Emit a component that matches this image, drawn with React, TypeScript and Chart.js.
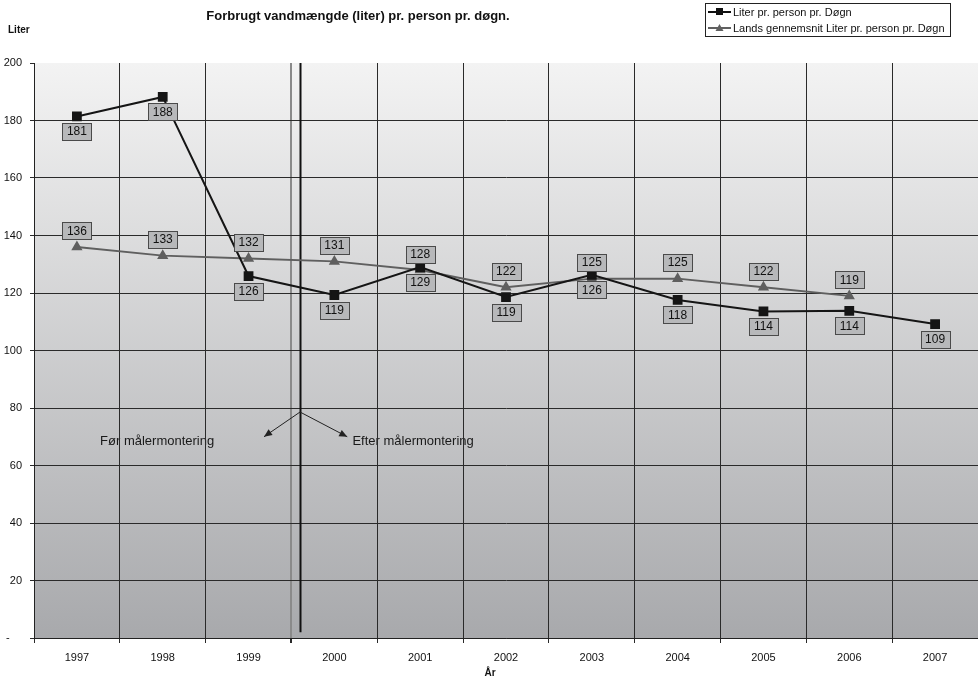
import { useEffect, useRef } from 'react';
import { Chart, registerables } from 'chart.js';

Chart.register(...registerables);

const years = ['1997', '1998', '1999', '2000', '2001', '2002', '2003', '2004', '2005', '2006', '2007'];
const literPerPerson = [181.4, 188.2, 125.9, 119.3, 129.0, 118.6, 126.3, 117.6, 113.6, 113.8, 109.2];
const landsGennemsnit = [136, 133, 132, 131, 128, 122, 125, 125, 122, 119, null];
const yTickValues = [0, 20, 40, 60, 80, 100, 120, 140, 160, 180, 200];

const seriesNames = ['Liter pr. person pr. Døgn', 'Lands gennemsnit Liter pr. person pr. Døgn'];
const chartTitle = 'Forbrugt vandmængde (liter) pr. person pr. døgn.';
const yTitle = 'Liter';
const xTitle = 'År';
const beforeText = 'Før målermontering';
const afterText = 'Efter målermontering';

const FONT = '"Liberation Sans", Arial, sans-serif';

// annotation anchors in data units (category index, value)
const dividerAt = 2.6;
const arrowFrom = { x: 2.6, y: 78.6 };
const arrowLeftTo = { x: 2.18, y: 70 };
const arrowRightTo = { x: 3.15, y: 70 };
const beforeTextAt = { x: 0.27, y: 68.5 };
const afterTextAt = { x: 3.21, y: 68.5 };

function arrow(ctx: CanvasRenderingContext2D, x1: number, y1: number, x2: number, y2: number) {
  ctx.beginPath();
  ctx.moveTo(x1, y1);
  ctx.lineTo(x2, y2);
  ctx.stroke();
  const ang = Math.atan2(y2 - y1, x2 - x1);
  const len = 8;
  const w = 3.5;
  ctx.beginPath();
  ctx.moveTo(x2, y2);
  ctx.lineTo(x2 - len * Math.cos(ang) + w * Math.sin(ang), y2 - len * Math.sin(ang) - w * Math.cos(ang));
  ctx.lineTo(x2 - len * Math.cos(ang) - w * Math.sin(ang), y2 - len * Math.sin(ang) + w * Math.cos(ang));
  ctx.closePath();
  ctx.fill();
}

const customPlugin = {
  id: 'customDecor',
  beforeDraw(chart: any) {
    const { ctx, chartArea, scales } = chart;
    const { left, top, right, bottom } = chartArea;
    ctx.save();
    const g = ctx.createLinearGradient(0, top, 0, bottom);
    g.addColorStop(0, '#f3f3f3');
    g.addColorStop(1, '#a8a9ac');
    ctx.fillStyle = g;
    ctx.fillRect(left, top, right - left, bottom - top);
    ctx.fillStyle = '#1a1a1a';
    ctx.font = `13px ${FONT}`;
    ctx.textBaseline = 'middle';
    ctx.textAlign = 'left';
    ctx.fillText(beforeText, scales.x.getPixelForValue(beforeTextAt.x), scales.y.getPixelForValue(beforeTextAt.y));
    ctx.fillText(afterText, scales.x.getPixelForValue(afterTextAt.x), scales.y.getPixelForValue(afterTextAt.y));
    ctx.restore();
  },
  beforeDatasetsDraw(chart: any) {
    const { ctx, scales } = chart;
    const x = scales.x;
    const y = scales.y;
    ctx.save();
    const dx = Math.round(x.getPixelForValue(dividerAt)) + 0.5;
    ctx.strokeStyle = '#111';
    ctx.lineWidth = 2;
    ctx.beginPath();
    ctx.moveTo(dx, y.getPixelForValue(200));
    ctx.lineTo(dx, y.getPixelForValue(2));
    ctx.stroke();
    ctx.lineWidth = 1;
    ctx.strokeStyle = '#222';
    ctx.fillStyle = '#222';
    const fx = x.getPixelForValue(arrowFrom.x);
    const fy = y.getPixelForValue(arrowFrom.y);
    arrow(ctx, fx, fy, x.getPixelForValue(arrowLeftTo.x), y.getPixelForValue(arrowLeftTo.y));
    arrow(ctx, fx, fy, x.getPixelForValue(arrowRightTo.x), y.getPixelForValue(arrowRightTo.y));
    ctx.restore();
  },
  afterDatasetsDraw(chart: any) {
    const { ctx } = chart;
    ctx.save();
    ctx.font = `12px ${FONT}`;
    ctx.textAlign = 'center';
    ctx.textBaseline = 'middle';
    chart.data.datasets.forEach((ds: any, di: number) => {
      const meta = chart.getDatasetMeta(di);
      meta.data.forEach((pt: any, i: number) => {
        const v = ds.data[i];
        if (v === null || v === undefined) return;
        const txt = String(Math.round(v));
        const w = 29;
        const h = 17;
        const cy = di === 0 ? pt.y + 15 : pt.y - 16;
        const bx = Math.round(pt.x - w / 2) + 0.5;
        const by = Math.round(cy - h / 2) + 0.5;
        ctx.fillStyle = '#b7b8ba';
        ctx.fillRect(bx, by, w, h);
        ctx.strokeStyle = '#4a4a4a';
        ctx.lineWidth = 1;
        ctx.strokeRect(bx, by, w, h);
        ctx.fillStyle = '#111';
        ctx.fillText(txt, pt.x, cy + 0.5);
      });
    });
    ctx.restore();
  },
  afterDraw(chart: any) {
    const { ctx } = chart;
    ctx.save();
    ctx.fillStyle = '#111';
    ctx.textBaseline = 'middle';
    ctx.font = `bold 13px ${FONT}`;
    ctx.textAlign = 'center';
    ctx.fillText(chartTitle, 358, 16);
    ctx.font = `bold 10px ${FONT}`;
    ctx.textAlign = 'left';
    ctx.fillText(yTitle, 8, 30);
    ctx.font = `bold 10px ${FONT}`;
    ctx.textAlign = 'center';
    ctx.fillText(xTitle, chart.width / 2 + 1, 673);

    // legend
    const lx = 705.5;
    const ly = 3.5;
    ctx.fillStyle = '#ffffff';
    ctx.fillRect(lx, ly, 245, 33);
    ctx.strokeStyle = '#222';
    ctx.lineWidth = 1;
    ctx.strokeRect(lx, ly, 245, 33);
    ctx.font = `11px ${FONT}`;
    ctx.textAlign = 'left';
    const rows = [
      { y: 12, color: '#111', style: 'rect' },
      { y: 28, color: '#606060', style: 'tri' },
    ];
    rows.forEach((r, i) => {
      ctx.strokeStyle = r.color;
      ctx.fillStyle = r.color;
      ctx.lineWidth = 2;
      ctx.beginPath();
      ctx.moveTo(708, r.y);
      ctx.lineTo(731, r.y);
      ctx.stroke();
      if (r.style === 'rect') {
        ctx.fillRect(716, r.y - 4, 7, 7);
      } else {
        ctx.beginPath();
        ctx.moveTo(719.5, r.y - 4);
        ctx.lineTo(723.5, r.y + 3);
        ctx.lineTo(715.5, r.y + 3);
        ctx.closePath();
        ctx.fill();
      }
      ctx.fillStyle = '#111';
      ctx.fillText(seriesNames[i], 733, r.y + 0.5);
    });
    ctx.restore();
  },
};

export default function App() {
  const ref = useRef<HTMLCanvasElement | null>(null);
  useEffect(() => {
    document.body.style.margin = '0';
    const canvas = ref.current;
    if (!canvas) return;
    const chart = new Chart(canvas, {
      type: 'line',
      data: {
        labels: years,
        datasets: [
          {
            label: seriesNames[0],
            data: literPerPerson,
            borderColor: '#151515',
            backgroundColor: '#151515',
            borderWidth: 2,
            pointStyle: 'rect',
            pointRadius: 5.5,
            pointHoverRadius: 5.5,
            tension: 0,
          },
          {
            label: seriesNames[1],
            data: landsGennemsnit,
            borderColor: '#5f5f5f',
            backgroundColor: '#5f5f5f',
            borderWidth: 2,
            pointStyle: 'triangle',
            pointRadius: 4.5,
            pointHoverRadius: 4.5,
            tension: 0,
          },
        ],
      },
      options: {
        responsive: false,
        animation: false,
        devicePixelRatio: 1,
        layout: { autoPadding: false, padding: { top: 63, left: 0, right: 0, bottom: 0 } },
        plugins: {
          legend: { display: false },
          title: { display: false },
          tooltip: { enabled: false },
        },
        scales: {
          x: {
            type: 'category',
            offset: true,
            afterFit: (s: any) => { s.height = 39; s.paddingLeft = 0; s.paddingRight = 0; },
            grid: {
              offset: true,
              color: (c: any) => (c.index === 3 ? '#8a8a8a' : '#2a2a2a'),
              lineWidth: (c: any) => (c.index === 3 ? 2 : 1),
              drawTicks: true,
              tickLength: 5,
              tickColor: '#2a2a2a',
            },
            border: { color: '#222', width: 1 },
            ticks: {
              color: '#111',
              font: { family: FONT, size: 11 },
              padding: 8,
              maxRotation: 0,
              autoSkip: false,
            },
          },
          y: {
            min: 0,
            max: 200,
            afterFit: (s: any) => { s.width = 34; s.paddingTop = 0; s.paddingBottom = 0; },
            afterBuildTicks: (s: any) => { s.ticks = yTickValues.map((v) => ({ value: v })); },
            grid: {
              color: (c: any) => (c.tick && c.tick.value === 200 ? 'rgba(0,0,0,0)' : '#2a2a2a'),
              lineWidth: 1,
              tickLength: 4,
              tickColor: '#2a2a2a',
            },
            border: { color: '#222', width: 1 },
            ticks: {
              color: '#111',
              font: { family: FONT, size: 11 },
              padding: 8,
              callback: (v: any) => (v === 0 ? '-    ' : String(v)),
            },
          },
        },
      },
      plugins: [customPlugin],
    });
    return () => chart.destroy();
  }, []);
  return <canvas ref={ref} width={978} height={677} style={{ display: 'block', width: 978, height: 677 }} />;
}
